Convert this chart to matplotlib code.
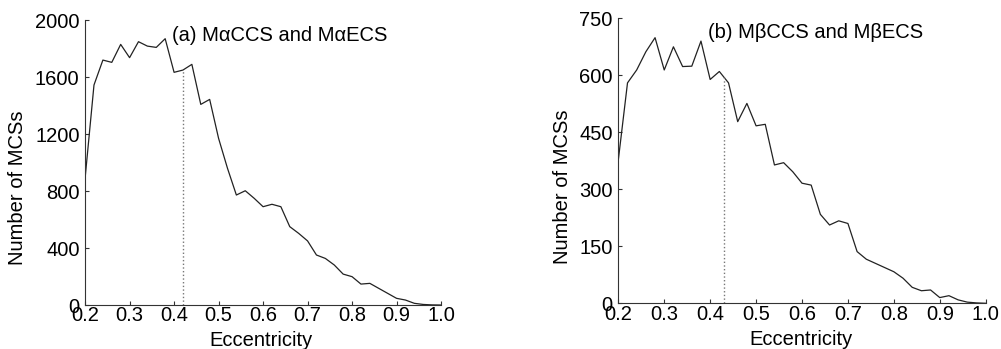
import matplotlib
matplotlib.use("Agg")
import matplotlib.pyplot as plt
import numpy as np

plt.rcParams['font.family'] = ['Liberation Sans', 'DejaVu Sans']

# eccentricity bins
ecc = [0.20, 0.22, 0.24, 0.26, 0.28, 0.30, 0.32, 0.34, 0.36, 0.38,
       0.40, 0.42, 0.44, 0.46, 0.48, 0.50, 0.52, 0.54, 0.56, 0.58,
       0.60, 0.62, 0.64, 0.66, 0.68, 0.70, 0.72, 0.74, 0.76, 0.78,
       0.80, 0.82, 0.84, 0.86, 0.88, 0.90, 0.92, 0.94, 0.96, 0.98, 1.00]

# (a) MαCCS and MαECS
count_a = [889, 1544, 1719, 1703, 1829, 1736, 1848, 1817, 1808, 1869,
           1633, 1649, 1689, 1408, 1443, 1170, 960, 772, 802, 749,
           690, 707, 690, 550, 503, 450, 351, 327, 281, 217,
           199, 147, 152, 117, 82, 47, 35, 12, 4, 1, 0]

# (b) MβCCS and MβECS
count_b = [377, 580, 614, 662, 699, 614, 675, 623, 624, 690,
           589, 610, 580, 478, 526, 467, 471, 364, 370, 346,
           316, 311, 234, 206, 217, 210, 136, 116, 105, 94,
           83, 66, 42, 33, 35, 15, 20, 9, 3, 1, 0]

median_a = 0.42
median_b = 0.43

xticks = [0.2, 0.3, 0.4, 0.5, 0.6, 0.7, 0.8, 0.9, 1.0]
yticks_a = [0, 400, 800, 1200, 1600, 2000]
yticks_b = [0, 150, 300, 450, 600, 750]

fig = plt.figure(figsize=(10.01, 3.49), dpi=100)
ax1 = fig.add_axes([0.085, 0.126, 0.3556, 0.8166])
ax2 = fig.add_axes([0.6177, 0.131, 0.367, 0.8166])

panels = [
    (ax1, count_a, median_a, yticks_a, "(a) M\u03b1CCS and M\u03b1ECS", 1890),
    (ax2, count_b, median_b, yticks_b, "(b) M\u03b2CCS and M\u03b2ECS", 712),
]

fs = 14.5
for ax, cnt, med, yt, title, ty in panels:
    ax.plot(ecc, cnt, color='#222222', linewidth=0.9)
    top = np.interp(med, ecc, cnt)
    # dotted marker line up to the curve
    ax.plot([med, med], [0, top], color='#777777', linestyle=':', linewidth=1.0)
    ax.set_xlim(0.2, 1.0)
    ax.set_ylim(yt[0], yt[-1])
    ax.set_xticks(xticks)
    ax.set_xticklabels(["%.1f" % v for v in xticks])
    ax.set_yticks(yt)
    ax.tick_params(direction='in', length=3, width=0.8, labelsize=fs, pad=1.0, color='#333333')
    ax.tick_params(axis='y', pad=4)
    ax.spines['top'].set_visible(False)
    ax.spines['right'].set_visible(False)
    for s in ['left', 'bottom']:
        ax.spines[s].set_color('#333333')
        ax.spines[s].set_linewidth(0.8)
    ax.set_xlabel("Eccentricity", fontsize=fs)
    ax.set_ylabel("Number of MCSs", fontsize=fs)
    ax.text(0.395, ty, title, fontsize=fs, va='center', ha='left')

ax1.xaxis.set_label_coords(0.494, -0.09)
ax2.xaxis.set_label_coords(0.497, -0.095)
ax1.yaxis.set_label_coords(-0.163, 0.41)
ax2.yaxis.set_label_coords(-0.125, 0.41)

fig.savefig("out.png", dpi=100)
